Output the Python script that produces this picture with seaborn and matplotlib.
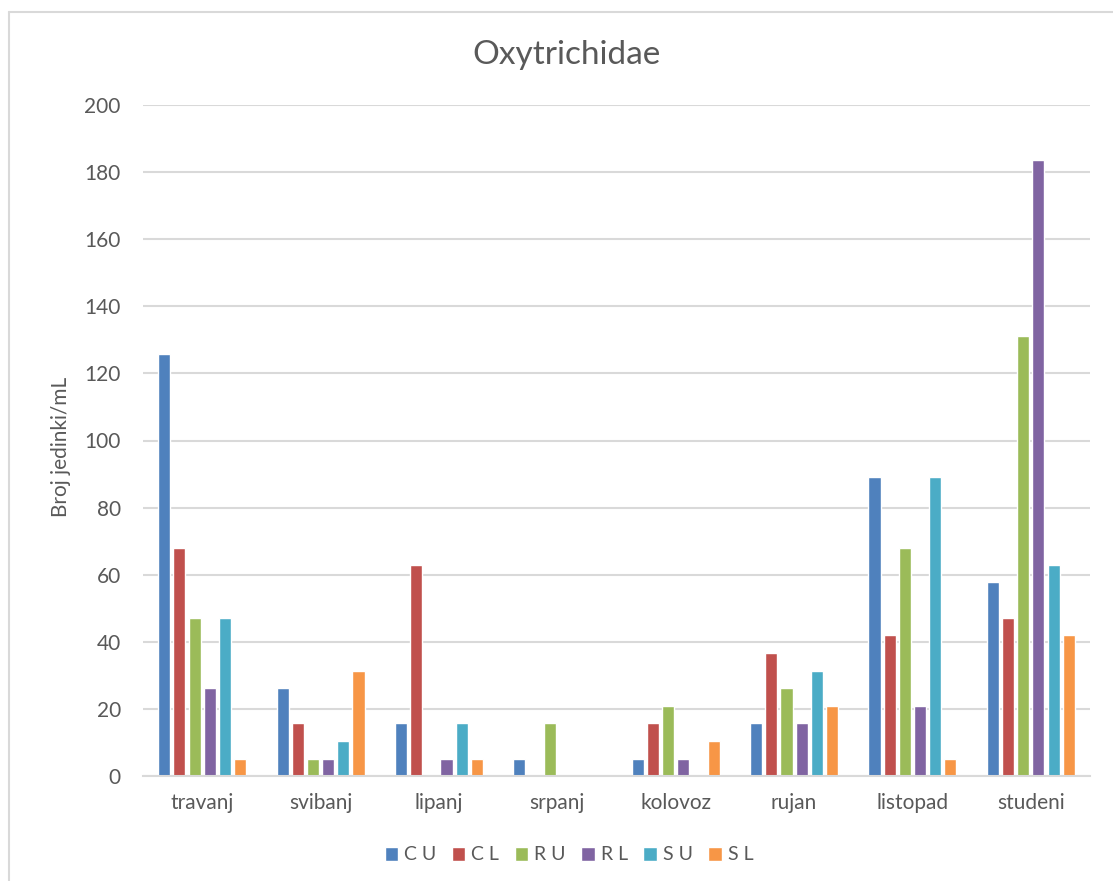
import numpy as np
import pandas as pd
import matplotlib
matplotlib.use("Agg")
import matplotlib.pyplot as plt
import seaborn as sns

months = ["travanj", "svibanj", "lipanj", "srpanj", "kolovoz", "rujan", "listopad", "studeni"]
series = ["C U", "C L", "R U", "R L", "S U", "S L"]
cu = [125.8, 26.2, 15.7, 5.2, 5.2, 15.7, 89.1, 57.7]
cl = [68.1, 15.7, 62.9, 0, 15.7, 36.7, 41.9, 47.2]
ru = [47.2, 5.2, 0, 15.7, 21.0, 26.2, 68.1, 131.0]
rl = [26.2, 5.2, 5.2, 0, 5.2, 15.7, 21.0, 183.5]
su = [47.2, 10.5, 15.7, 0, 0, 31.4, 89.1, 62.9]
sl = [5.2, 31.4, 5.2, 0, 10.5, 21.0, 5.2, 41.9]
colors = ["#4F81BD", "#C0504D", "#9BBB59", "#8064A2", "#4BACC6", "#F79646"]

rows = []
for name, vals in zip(series, [cu, cl, ru, rl, su, sl]):
    for m, v in zip(months, vals):
        rows.append({"Mjesec": m, "Serija": name, "Broj": v})
df = pd.DataFrame(rows)

sns.set_style("white")
plt.rcParams["font.family"] = ["Lato", "DejaVu Sans"]
txt = "#595959"
grid = "#d9d9d9"

W, H = 1113, 881
fig = plt.figure(figsize=(W / 100, H / 100), dpi=100)
ax = fig.add_axes([143 / W, 1 - 776 / H, (1090 - 143) / W, (776 - 105) / H])

sns.barplot(data=df, x="Mjesec", y="Broj", hue="Serija", order=months,
            hue_order=series, palette=colors, width=0.77, gap=0.2,
            saturation=1, errorbar=None, ax=ax)

ax.set_ylim(0, 200)
ax.set_yticks(range(0, 201, 20))
ax.yaxis.grid(True, color=grid, linewidth=1.5)
ax.set_axisbelow(True)
for s in ["top", "right", "left"]:
    ax.spines[s].set_visible(False)
ax.spines["bottom"].set_color(grid)
ax.spines["bottom"].set_linewidth(1.5)
ax.tick_params(axis="y", length=0, pad=16, labelsize=15, labelcolor=txt)
ax.tick_params(axis="x", length=0, pad=12, labelsize=15, labelcolor=txt)
ax.set_xlabel("")
ax.set_ylabel("Broj jedinki/mL", fontsize=15, color=txt)
ax.yaxis.set_label_coords((71 - 143) / (1090 - 143), 0.49)

handles, labels = ax.get_legend_handles_labels()
ax.get_legend().remove()
fig.legend(handles, labels, loc="center", bbox_to_anchor=(569 / W, 1 - 855 / H),
           ncol=6, frameon=False, fontsize=14, labelcolor=txt,
           handlelength=0.7, handleheight=0.7, handletextpad=0.3, columnspacing=0.8)

fig.text(566 / W, 1 - 55 / H, "Oxytrichidae", ha="center", va="center",
         fontsize=24, color=txt)

# chart-area border
fig.add_artist(plt.Line2D([9 / W, 9 / W], [0, 1 - 12 / H], color=grid, linewidth=1.5,
                          transform=fig.transFigure))
fig.add_artist(plt.Line2D([9 / W, 1], [1 - 12 / H, 1 - 12 / H], color=grid, linewidth=1.5,
                          transform=fig.transFigure))

fig.savefig("out.png", dpi=100, facecolor="white")
